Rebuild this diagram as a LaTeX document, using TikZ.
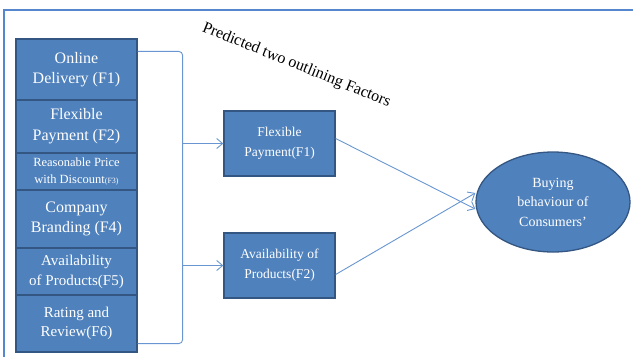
\documentclass[tikz,border=0pt]{standalone}
\usepackage{fontspec}
\setmainfont{Liberation Serif}
\usepackage{xcolor}
\usepackage{tikz}
\usetikzlibrary{arrows.meta,positioning,shapes.geometric,calc}
\definecolor{boxblue}{RGB}{79,129,189}
\definecolor{edgeblue}{RGB}{52,86,130}
\definecolor{linkblue}{RGB}{105,150,208}
\definecolor{framblue}{RGB}{84,135,205}

\begin{document}
\begin{tikzpicture}[x=1pt, y=-1pt,
  factor/.style={draw=edgeblue, line width=1.3pt, fill=boxblue, text=white,
    minimum width=121pt, inner sep=0pt, align=center},
  outbox/.style={draw=edgeblue, line width=1.3pt, fill=boxblue, text=white,
    minimum width=111pt, minimum height=65pt, inner sep=0pt, align=center,
    font=\fontsize{13.5}{20}\selectfont},
  link/.style={draw=linkblue, line width=0.9pt},
  tip/.style={-{Straight Barb[length=6pt,width=10pt]}}]
  \useasboundingbox (0,0) rectangle (633,357);
  % ---- frame (top and left edge) ----
  \draw[framblue, line width=1.5pt] (633,10) -- (4,10) -- (4,357);
  % ---- six factors (left column) ----
  \node[factor, minimum height=61pt, font=\fontsize{16}{20}\selectfont] (f1) at (76.5,69.5) {Online\\Delivery (F1)};
  \node[factor, minimum height=53pt, font=\fontsize{16}{21}\selectfont] (f2) at (76.5,126.5) {Flexible\\Payment (F2)};
  \node[factor, minimum height=37pt, font=\fontsize{12.5}{17}\selectfont] (f3) at (76.5,171.5) {Reasonable Price\\with Discount{\fontsize{8}{8}\selectfont(F3)}};
  \node[factor, minimum height=58pt, font=\fontsize{16}{20}\selectfont] (f4) at (76.5,219) {Company\\Branding (F4)};
  \node[factor, minimum height=47pt, font=\fontsize{15}{20}\selectfont] (f5) at (76.5,271.5) {Availability\\of Products(F5)};
  \node[factor, minimum height=57pt, font=\fontsize{15}{19}\selectfont] (f6) at (76.5,323.5) {Rating and\\Review(F6)};
  % ---- bracket round the column ----
  \coordinate (brtop) at ($(f1.north east)+(0,13)$);
  \coordinate (brbot) at ($(f6.south east)+(0,-9)$);
  \coordinate (brx) at ($(brtop)+(45,0)$);
  \draw[link, rounded corners=4pt] (brtop) -- (brx) |- (brbot);
  % ---- two predicted factors ----
  \node[outbox] (p1) at (279.5,143.5) {Flexible\\Payment(F1)};
  \node[outbox] (p2) at (279.5,265.5) {Availability of\\Products(F2)};
  \draw[link, tip] (brx |- p1.west) -- (p1.west);
  \draw[link, tip] (brx |- p2.west) -- (p2.west);
  % ---- outcome ----
  \node[ellipse, draw=edgeblue, line width=1.3pt, fill=boxblue, text=white,
    minimum width=154pt, minimum height=100pt, inner sep=0pt, align=center,
    font=\fontsize{14}{19.5}\selectfont] (cons) at (553,202) {Buying\\behaviour of\\Consumers'};
  \draw[link, tip] ($(p1.east)+(0,-5)$) -- ($(cons.west)+(0,7)$);
  \draw[link, tip] ($(p2.east)+(0,9)$) -- ($(cons.west)+(0,-9)$);
  % ---- caption (slanted) ----
  \node[anchor=base, rotate=-22, font=\fontsize{16}{18}\selectfont] (cap) at (295,69) {Predicted two outlining Factors};
\end{tikzpicture}
\end{document}
